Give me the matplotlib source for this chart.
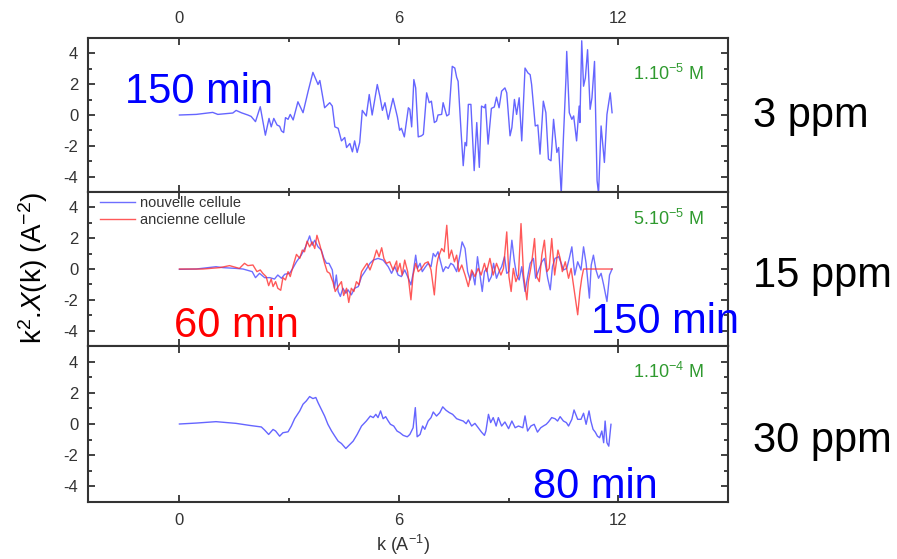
import matplotlib
matplotlib.use("Agg")
import matplotlib.pyplot as plt
from matplotlib.ticker import MultipleLocator

plt.rcParams["font.family"] = ["Liberation Sans", "DejaVu Sans"]
plt.rcParams["mathtext.fontset"] = "custom"
plt.rcParams["mathtext.rm"] = "Liberation Sans"
plt.rcParams["mathtext.it"] = "Liberation Sans:italic"
plt.rcParams["mathtext.bf"] = "Liberation Sans:bold"
plt.rcParams["axes.unicode_minus"] = False

# ---- data (k in A^-1, k^2.chi(k) in A^-2) ----
# 3 ppm, 150 min
k_3ppm = [0.00, 0.46, 0.91, 1.05, 1.46, 1.55, 1.69, 1.87, 1.96, 2.08, 2.21, 2.35,
          2.45, 2.51, 2.58, 2.67, 2.74, 2.79, 2.85, 2.90, 2.97, 3.03, 3.11, 3.24,
          3.38, 3.52, 3.65, 3.79, 3.84, 3.97, 4.11, 4.18, 4.25, 4.34, 4.43, 4.52,
          4.57, 4.66, 4.73, 4.79, 4.86, 4.93, 5.00, 5.11, 5.19, 5.27, 5.41, 5.48,
          5.55, 5.62, 5.71, 5.84, 5.96, 6.02, 6.07, 6.15, 6.26, 6.30, 6.35, 6.41,
          6.46, 6.53, 6.62, 6.67, 6.76, 6.83, 6.89, 6.97, 7.03, 7.07, 7.17, 7.21,
          7.31, 7.37, 7.46, 7.53, 7.58, 7.62, 7.70, 7.76, 7.81, 7.85, 7.90, 7.97,
          8.06, 8.13, 8.20, 8.26, 8.34, 8.37, 8.44, 8.53, 8.61, 8.67, 8.74, 8.81,
          8.90, 8.95, 9.04, 9.09, 9.16, 9.22, 9.29, 9.36, 9.45, 9.53, 9.59, 9.63,
          9.73, 9.80, 9.86, 9.95, 10.02, 10.09, 10.16, 10.23, 10.32, 10.37, 10.44,
          10.50, 10.57, 10.59, 10.66, 10.73, 10.78, 10.86, 10.93, 10.95, 11.00,
          11.05, 11.10, 11.16, 11.23, 11.28, 11.35, 11.42, 11.46, 11.53, 11.62,
          11.69, 11.78, 11.83]
chi_3ppm = [0.00, 0.04, 0.17, 0.04, 0.13, 0.30, 0.15, 0.00, -0.09, -0.43, 0.54, -1.31,
            -0.22, -0.77, -0.22, -0.65, -0.73, -1.03, -1.14, -0.17, -0.28, 0.04, -0.32, 0.86,
            0.15, 1.55, 2.77, 1.98, 2.24, 0.47, 0.80, 0.58, -0.77, -0.86, -1.68, -1.46,
            -2.11, -1.85, -2.39, -1.68, -2.43, -1.78, 0.30, -0.06, 1.33, 0.00, 1.98, 1.23,
            0.30, 0.80, -0.28, 1.08, -0.13, -0.99, -0.86, -1.42, 0.47, 0.37, -0.77, 2.30,
            1.76, -1.42, -1.35, -1.25, 1.44, 0.80, 0.90, -0.49, -0.39, 0.00, 0.04, 0.80,
            -0.06, 0.04, 3.16, 3.05, 2.45, 2.19, -1.03, -3.29, -1.78, -2.00, 0.69, 0.69,
            -3.61, -0.49, -3.40, 0.58, 0.47, 0.69, -1.89, 0.43, 0.52, 1.16, 0.47, 1.55,
            1.76, 1.44, -1.35, -0.82, 1.01, 0.04, 1.12, -1.68, 3.05, 2.73, 2.62, 1.98,
            -0.71, -0.65, -2.54, 0.90, 0.15, -2.86, -2.97, -0.28, -2.43, -2.11, -5.10,
            -1.46, 2.41, 4.13, 0.15, -0.28, -0.06, -1.68, 0.58, -0.49, 4.82,
            1.87, 2.41, 4.24, 0.37, 1.12, 3.48, -4.26, -5.10, -0.71, -3.08,
            0.04, 1.44, 0.15]

# 15 ppm, nouvelle cellule (150 min)
k_15ppm_new = [0.00, 0.46, 1.00, 1.19, 1.55, 1.74, 1.87, 1.99, 2.08, 2.19, 2.33, 2.47,
               2.60, 2.69, 2.79, 2.88, 3.01, 3.09, 3.20, 3.33, 3.45, 3.56, 3.63, 3.70,
               3.79, 3.88, 3.95, 4.02, 4.09, 4.18, 4.24, 4.29, 4.34, 4.40, 4.47, 4.55,
               4.61, 4.70, 4.79, 4.89, 4.98, 5.07, 5.21, 5.30, 5.43, 5.57, 5.71, 5.80,
               5.89, 5.98, 6.07, 6.16, 6.26, 6.33, 6.39, 6.46, 6.51, 6.58, 6.64, 6.73,
               6.80, 6.88, 6.94, 7.00, 7.07, 7.15, 7.21, 7.28, 7.35, 7.42, 7.49, 7.58,
               7.67, 7.73, 7.81, 7.88, 7.95, 8.01, 8.08, 8.15, 8.22, 8.28, 8.34, 8.40,
               8.46, 8.53, 8.59, 8.67, 8.74, 8.81, 8.89, 8.95, 9.01, 9.09, 9.16, 9.22,
               9.29, 9.36, 9.45, 9.53, 9.59, 9.68, 9.74, 9.84, 9.91, 9.98, 10.07, 10.14,
               10.20, 10.27, 10.37, 10.44, 10.50, 10.59, 10.66, 10.73, 10.81, 10.89,
               10.98, 11.05, 11.12, 11.21, 11.26, 11.32, 11.39, 11.46, 11.53, 11.60,
               11.69, 11.76, 11.83]
chi_15ppm_new = [-0.02, 0.00, 0.15, 0.09, 0.04, 0.00, -0.09, -0.17, -0.56, -0.28, -0.56, -0.56,
                 -0.65, -0.39, -0.60, -0.34, -0.28, 0.00, 0.47, 0.90, 1.44, 2.15, 1.55, 1.87,
                 1.44, 1.23, 0.69, 0.37, 0.37, -0.06, -1.25, -0.39, -1.46, -1.78, -1.25, -1.57,
                 -1.35, -1.68, -1.25, -1.14, -0.49, -0.17, 0.37, 0.58, 0.69, 0.58, 0.15, -0.28,
                 0.15, -0.39, -0.49, -0.06, -0.60, -1.03, -0.28, 0.90, 0.04, 0.37, -0.17, 0.15,
                 0.37, 0.15, 1.01, 0.80, 1.12, 0.37, -0.17, 0.15, 0.04, 0.37, 0.26, -0.17,
                 0.90, 1.76, 1.33, -0.17, -0.71, -0.17, -1.03, 0.80, -0.39, -1.46, -0.17, 0.04,
                 -0.82, -0.49, 0.37, -0.60, -0.17, 0.15, 0.80, -0.28, -0.17, 1.87, 0.47, -0.39,
                 -0.71, 0.15, -1.46, -0.39, 0.37, 0.69, -0.60, 0.04, 0.47, 0.69, -0.60, -1.35,
                 0.15, 0.69, 0.80, 0.37, -0.06, 0.04, 0.69, 1.44, -0.39, 0.47,
                 -0.06, 1.44, 0.37, -1.89, 0.26, 0.90, -0.06, -0.60, -0.28, -1.03,
                 -2.11, -0.39, 0.00]

# 15 ppm, ancienne cellule (60 min)
k_15ppm_old = [0.00, 0.64, 1.10, 1.37, 1.64, 1.78, 1.87, 2.01, 2.12, 2.21, 2.28, 2.37,
               2.44, 2.51, 2.56, 2.63, 2.69, 2.77, 2.83, 2.90, 2.97, 3.03, 3.11, 3.20,
               3.29, 3.36, 3.42, 3.49, 3.56, 3.63, 3.70, 3.76, 3.84, 3.91, 3.97, 4.04,
               4.11, 4.20, 4.26, 4.34, 4.43, 4.49, 4.57, 4.63, 4.70, 4.77, 4.84, 4.91,
               4.98, 5.05, 5.13, 5.21, 5.30, 5.39, 5.46, 5.53, 5.59, 5.66, 5.75, 5.84,
               5.94, 5.96, 6.03, 6.09, 6.16, 6.24, 6.33, 6.39, 6.46, 6.53, 6.62, 6.71,
               6.80, 6.88, 6.97, 7.03, 7.07, 7.17, 7.24, 7.31, 7.37, 7.44, 7.52, 7.58,
               7.64, 7.72, 7.81, 7.90, 7.99, 8.08, 8.17, 8.25, 8.34, 8.40, 8.49, 8.58,
               8.67, 8.79, 8.86, 8.95, 9.01, 9.07, 9.13, 9.20, 9.27, 9.34, 9.41, 9.50,
               9.54, 9.63, 9.71, 9.77, 9.84, 9.91, 9.98, 10.05, 10.11, 10.18, 10.26,
               10.35, 10.41, 10.47, 10.55, 10.64, 10.71, 10.80, 10.89, 10.95, 11.00,
               11.05, 11.83]
chi_15ppm_old = [0.00, 0.00, 0.09, 0.22, 0.04, 0.37, 0.22, 0.26, -0.17, -0.06, -0.28, -0.49,
                 -1.08, -0.65, -1.14, -0.82, -1.25, -1.38, -0.56, -0.71, -0.17, -0.49, 0.22, 0.95,
                 0.69, 1.23, 1.12, 1.81, 1.44, 1.76, 1.33, 2.19, 1.55, 0.90, 0.37, -0.17,
                 -0.28, -0.86, -1.46, -1.14, -0.82, -1.72, -1.25, -2.17, -1.25, -1.46, -0.82, -1.03,
                 -0.17, 0.09, 0.37, -0.06, 0.52, 1.23, 0.80, 1.38, 0.69, 0.37, 0.47, -0.06,
                 0.52, -0.17, 0.37, -0.39, 0.58, -0.17, -2.00, -0.39, 0.37, -0.17, 0.04, 0.37,
                 0.47, -0.06, -1.68, 0.15, 0.69, 1.33, 1.12, 2.84, 0.69, 1.23, 0.47, 0.90,
                 -0.17, 0.26, -0.39, -1.14, -0.06, -0.49, 0.04, -0.39, 0.37, -0.17, 0.69, -0.39,
                 0.37, -0.39, 0.04, 2.41, -0.49, -1.46, 0.04, -0.82, -0.39, 2.95, -0.39, -2.00,
                 -0.82, 0.37, 1.98, -0.49, -0.82, 0.90, 1.87, -0.17, 0.04, 1.98, -0.39,
                 1.23, 0.69, -0.17, 0.47, -0.60, 0.04, -1.46, -2.97, -1.46, -0.60,
                 0.00, 0.00]

# 30 ppm, 80 min
k_30ppm = [0.00, 0.46, 1.00, 1.55, 1.92, 2.24, 2.33, 2.44, 2.56, 2.63, 2.74, 2.83,
           2.97, 3.06, 3.15, 3.29, 3.38, 3.47, 3.56, 3.65, 3.73, 3.79, 3.88, 3.97,
           4.06, 4.16, 4.25, 4.34, 4.43, 4.55, 4.66, 4.75, 4.86, 4.98, 5.11, 5.22,
           5.30, 5.37, 5.43, 5.50, 5.57, 5.64, 5.71, 5.77, 5.86, 5.95, 6.03, 6.12,
           6.23, 6.30, 6.39, 6.45, 6.50, 6.58, 6.65, 6.71, 6.80, 6.88, 6.94, 7.03,
           7.12, 7.20, 7.29, 7.38, 7.47, 7.58, 7.67, 7.76, 7.84, 7.90, 7.99, 8.08,
           8.17, 8.26, 8.34, 8.38, 8.45, 8.51, 8.58, 8.66, 8.72, 8.81, 8.90, 9.00,
           9.09, 9.18, 9.27, 9.39, 9.45, 9.52, 9.61, 9.70, 9.79, 9.88, 9.95, 10.03,
           10.09, 10.18, 10.27, 10.34, 10.41, 10.50, 10.58, 10.64, 10.73, 10.79,
           10.89, 10.98, 11.05, 11.12, 11.20, 11.25, 11.31, 11.37, 11.43, 11.49,
           11.55, 11.60, 11.64, 11.69, 11.74, 11.80]
chi_30ppm = [0.00, 0.06, 0.15, 0.04, -0.09, -0.19, -0.39, -0.67, -0.35, -0.45, -0.78, -0.56,
             -0.50, -0.13, 0.34, 0.84, 1.27, 1.48, 1.76, 1.63, 1.70, 1.37, 0.94, 0.51,
             -0.02, -0.45, -0.78, -1.10, -1.25, -1.57, -1.31, -1.10, -0.67, -0.13, 0.19, 0.51,
             0.41, 0.62, 0.41, 0.84, 0.34, 0.47, 0.19, -0.02, -0.13, -0.45, -0.56, -0.73,
             -0.82, -0.67, -0.24, 1.05, -0.82, -0.67, -0.13, -0.34, 0.19, 0.41, 0.77, 0.51,
             0.73, 1.10, 0.88, 0.73, 0.62, 0.34, 0.26, 0.19, 0.02, 0.26, -0.13, 0.04,
             -0.24, -0.52, -0.73, -0.45, 0.62, 0.09, 0.41, -0.13, 0.41, -0.13, 0.13, -0.30,
             0.19, -0.24, -0.13, -0.24, 0.52, -0.45, -0.13, -0.02, -0.52, -0.24, -0.13, -0.02,
             0.13, 0.41, 0.34, 0.19, 0.47, 0.19, 0.09, -0.13, 0.30, 0.90,
             0.30, 0.30, 0.69, -0.02, 0.84, 0.19, -0.34, -0.52, -0.78, -0.88,
             -0.45, -1.20, 0.19, -1.20, -1.42, -0.02]

row_labels = ["3 ppm", "15 ppm", "30 ppm"]
conc_labels = ["1.10$^{-5}$ M", "5.10$^{-5}$ M", "1.10$^{-4}$ M"]
legend_labels = ["nouvelle cellule", "ancienne cellule"]

BLUE = "#4a4aff"
RED = "#ff3030"
GREEN = "#2f9a2f"
INK = "#333333"

fig = plt.figure(figsize=(8.97, 5.59), dpi=100)
fig.patch.set_facecolor("white")

rects = [[0.0981, 0.6565, 0.7135, 0.2755],
         [0.0981, 0.381, 0.7135, 0.2755],
         [0.0981, 0.102, 0.7135, 0.279]]
axes = [fig.add_axes(r) for r in rects]


def style(ax):
    ax.set_xlim(-2.5, 15)
    ax.set_ylim(-5, 5)
    ax.xaxis.set_major_locator(MultipleLocator(6))
    ax.xaxis.set_minor_locator(MultipleLocator(3))
    ax.yaxis.set_major_locator(MultipleLocator(2))
    ax.yaxis.set_minor_locator(MultipleLocator(1))
    for s in ax.spines.values():
        s.set_color(INK)
        s.set_linewidth(1.5)
    ax.tick_params(which="both", direction="in", top=True, right=True,
                   color=INK, width=1.3, labelcolor=INK, labelsize=12, pad=7)
    ax.tick_params(which="major", length=5)
    ax.tick_params(which="minor", length=3)
    ax.tick_params(axis="x", labelbottom=False)
    ax.tick_params(axis="y", labelright=False)


for ax in axes:
    style(ax)

axes[0].tick_params(axis="x", labeltop=True, pad=9)
axes[2].tick_params(axis="x", labelbottom=True, pad=8)

axes[0].plot(k_3ppm, chi_3ppm, color=BLUE, lw=1.0, alpha=0.85)
axes[1].plot(k_15ppm_new, chi_15ppm_new, color=BLUE, lw=1.0, alpha=0.8,
             label=legend_labels[0])
axes[1].plot(k_15ppm_old, chi_15ppm_old, color=RED, lw=1.0, alpha=0.8,
             label=legend_labels[1])
axes[2].plot(k_30ppm, chi_30ppm, color=BLUE, lw=1.0, alpha=0.85)

axes[1].legend(loc="upper left", bbox_to_anchor=(0.019, 0.975), frameon=False,
               fontsize=10.5, labelcolor=INK, handlelength=2.4, handletextpad=0.35,
               labelspacing=0.2, borderpad=0, borderaxespad=0)

# concentration notes (green), one per panel
for ax, lbl, y in zip(axes, conc_labels, [0.27, 0.215, 0.205]):
    ax.text(12.4, 5 - 10 * y, lbl, color=GREEN, fontsize=13, ha="left",
            va="baseline")

# big annotations
big = 30
fig.text(0.139, 0.816, "150 min", color="#0000ff", fontsize=big)
fig.text(0.194, 0.397, "60 min", color="#ff0000", fontsize=big)
fig.text(0.659, 0.404, "150 min", color="#0000ff", fontsize=big)
fig.text(0.594, 0.109, "80 min", color="#0000ff", fontsize=big)
for y, lbl in zip([0.773, 0.487, 0.191], row_labels):
    fig.text(0.840, y, lbl, color="black", fontsize=big)

fig.text(0.037, 0.521, r"k$^{2}$.$\mathit{X}$(k) (A$^{-2}$)", rotation=90,
         ha="center", va="center", fontsize=20, color="black")
fig.text(0.449, 0.025, r"k (A$^{-1}$)", ha="center", va="center",
         fontsize=13, color=INK)

fig.savefig("out.png", dpi=100, facecolor="white")
